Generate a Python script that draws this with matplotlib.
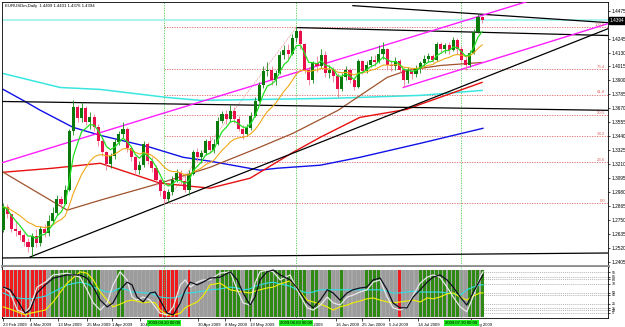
import numpy as np
import matplotlib.pyplot as plt
from matplotlib.transforms import blended_transform_factory

plt.rcParams['font.family'] = ['Liberation Sans', 'DejaVu Sans']

# daily EURUSD bars, 23 Feb 2009 .. 4 Aug 2009 (bar index = position)
first_open = 1.2670
closes = [1.2860, 1.2800, 1.2680, 1.2660, 1.2630, 1.2570, 1.2530, 1.2620, 1.2560, 1.2680,
          1.2640, 1.2740, 1.2810, 1.2920, 1.2880, 1.3000, 1.3480, 1.3680, 1.3590, 1.3670,
          1.3560, 1.3600, 1.3520, 1.3400, 1.3310, 1.3210, 1.3280, 1.3390, 1.3460, 1.3500,
          1.3340, 1.3270, 1.3160, 1.3200, 1.3380, 1.3240, 1.3180, 1.3080, 1.2990, 1.2920,
          1.2980, 1.3080, 1.3140, 1.3070, 1.3000, 1.3130, 1.3310, 1.3270, 1.3300, 1.3400,
          1.3330, 1.3380, 1.3570, 1.3620, 1.3580, 1.3650, 1.3580, 1.3500, 1.3460, 1.3510,
          1.3610, 1.3730, 1.3860, 1.3980, 1.3990, 1.3900, 1.3960, 1.4110, 1.4150, 1.4120,
          1.4250, 1.4310, 1.4200, 1.3990, 1.3900, 1.4040, 1.4020, 1.4110, 1.3960, 1.3990,
          1.3940, 1.3830, 1.3930, 1.3990, 1.3900, 1.3850, 1.4060, 1.3980, 1.4030, 1.4070,
          1.4050, 1.4120, 1.4160, 1.4030, 1.4020, 1.4060, 1.3990, 1.3900, 1.3980, 1.3950,
          1.4000, 1.4040, 1.4080, 1.4100, 1.4070, 1.4200, 1.4160, 1.4190, 1.4150, 1.4230,
          1.4160, 1.4070, 1.4030, 1.4130, 1.4300, 1.4420, 1.4394]
highs = [1.2890, 1.2880, 1.2800, 1.2740, 1.2680, 1.2640, 1.2600, 1.2640, 1.2680, 1.2700,
         1.2720, 1.2790, 1.2860, 1.2960, 1.2950, 1.3040, 1.3500, 1.3740, 1.3700, 1.3720,
         1.3690, 1.3640, 1.3620, 1.3540, 1.3420, 1.3320, 1.3300, 1.3420, 1.3480, 1.3560,
         1.3520, 1.3360, 1.3280, 1.3240, 1.3400, 1.3390, 1.3270, 1.3200, 1.3100, 1.3010,
         1.3010, 1.3110, 1.3170, 1.3160, 1.3140, 1.3160, 1.3330, 1.3340, 1.3330, 1.3420,
         1.3440, 1.3420, 1.3600, 1.3650, 1.3660, 1.3700, 1.3680, 1.3610, 1.3530, 1.3540,
         1.3640, 1.3760, 1.3890, 1.4020, 1.4050, 1.4020, 1.3990, 1.4140, 1.4190, 1.4200,
         1.4280, 1.4340, 1.4320, 1.4210, 1.4010, 1.4060, 1.4100, 1.4160, 1.4140, 1.4030,
         1.4010, 1.3960, 1.3960, 1.4020, 1.4000, 1.3930, 1.4080, 1.4070, 1.4060, 1.4100,
         1.4110, 1.4190, 1.4220, 1.4170, 1.4070, 1.4090, 1.4080, 1.4010, 1.4010, 1.4000,
         1.4030, 1.4060, 1.4110, 1.4130, 1.4120, 1.4220, 1.4220, 1.4210, 1.4220, 1.4260,
         1.4250, 1.4180, 1.4100, 1.4150, 1.4320, 1.4447, 1.4431]
lows = [1.2650, 1.2770, 1.2650, 1.2620, 1.2590, 1.2540, 1.2490, 1.2450, 1.2530, 1.2540,
        1.2610, 1.2620, 1.2720, 1.2790, 1.2850, 1.2880, 1.2990, 1.3450, 1.3560, 1.3560,
        1.3530, 1.3500, 1.3480, 1.3360, 1.3280, 1.3160, 1.3180, 1.3250, 1.3370, 1.3430,
        1.3310, 1.3240, 1.3120, 1.3130, 1.3190, 1.3210, 1.3150, 1.3040, 1.2950, 1.2885,
        1.2900, 1.2960, 1.3060, 1.3040, 1.2980, 1.2960, 1.3120, 1.3240, 1.3220, 1.3290,
        1.3300, 1.3300, 1.3370, 1.3550, 1.3540, 1.3560, 1.3550, 1.3480, 1.3420, 1.3440,
        1.3490, 1.3600, 1.3720, 1.3840, 1.3940, 1.3860, 1.3860, 1.3950, 1.4080, 1.4080,
        1.4110, 1.4220, 1.4160, 1.3960, 1.3860, 1.3880, 1.3970, 1.4000, 1.3930, 1.3920,
        1.3890, 1.3760, 1.3810, 1.3900, 1.3880, 1.3820, 1.3840, 1.3950, 1.3960, 1.4010,
        1.4020, 1.4040, 1.4080, 1.3990, 1.3980, 1.3990, 1.3960, 1.3850, 1.3880, 1.3910,
        1.3930, 1.3960, 1.4010, 1.4050, 1.4050, 1.4060, 1.4130, 1.4130, 1.4120, 1.4140,
        1.4120, 1.4050, 1.3990, 1.4010, 1.4120, 1.4290, 1.4376]

# slow moving averages at a few bars
brown_x = [0, 15.5, 23.5, 38, 50.1, 61.5, 70.2, 81.1, 93, 97.8, 105.8, 116]
brown_y = [1.3144, 1.2832, 1.2914, 1.3054, 1.3185, 1.3341, 1.3465, 1.3654, 1.3925, 1.3982, 1.4023, 1.4048]
red_x = [0, 11.9, 23.5, 38, 50.1, 59.8, 70.2, 76.8, 86.4, 97.8, 101, 116]
red_y = [1.3144, 1.3177, 1.3218, 1.3054, 1.3013, 1.3095, 1.3308, 1.3432, 1.3596, 1.3662, 1.3703, 1.3884]
blue_x = [0, 4.8, 9, 16.9, 23.5, 35.6, 43.6, 50.1, 62.2, 66.3, 76.8, 86.4, 101, 116.2]
blue_y = [1.3826, 1.3736, 1.3654, 1.3514, 1.3448, 1.3350, 1.3267, 1.3235, 1.3161, 1.3177, 1.3202, 1.3267, 1.3382, 1.3506]
cyan_x = [0, 13.8, 23.5, 39.7, 47.7, 79.9, 101, 116]
cyan_y = [1.3957, 1.3842, 1.3826, 1.3760, 1.3736, 1.3753, 1.3777, 1.3818]

# hand drawn objects: (bar, price) anchors
black_lines = [((84.7, 1.4516), (146.5, 1.4376)),
               ((71.2, 1.4335), (146.5, 1.4270)),
               ((-0.7, 1.3727), (146.5, 1.3654)),
               ((-0.7, 1.2438), (146.5, 1.2479)),
               ((6.5, 1.2446), (146.5, 1.4326))]
magenta_lines = [((-0.7, 1.3218), (127.6, 1.4557)),
                 ((96.9, 1.3842), (146.5, 1.4368))]
fib_low = (39, 1.2887)
fib_high = (71, 1.4337)
fib_ratios = [0.0, 23.6, 38.2, 50.0, 61.8, 76.4, 100.0]
vlines_at = [39, 71, 111]
vline_text = ['2009.04.20 00:00', '2009.06.03 00:00', '2009.07.30 00:00']

price_ticks = [1.2405, 1.2520, 1.2635, 1.2750, 1.2865, 1.2980, 1.3095, 1.3210, 1.3325,
               1.3440, 1.3555, 1.3670, 1.3785, 1.3900, 1.4015, 1.4130, 1.4245, 1.4475]
bid = 1.4394

date_pos = [0, 6.5, 13.3, 20.3, 26.4, 33.2, 47.2, 53.8, 59.8, 72.4, 80.6, 86.9, 93.5, 100.5, 113.3]
date_text = ['23 Feb 2009', '4 Mar 2009', '13 Mar 2009', '25 Mar 2009', '1 Apr 2009',
             '10 Apr 2009', '30 Apr 2009', '8 May 2009', '19 May 2009', '2 Jun 2009',
             '16 Jun 2009', '25 Jun 2009', '5 Jul 2009', '14 Jul 2009', '3 Aug 2009']

# lower window: trend state per bar and four oscillator lines
zone = ('rrrrrrrrrrr' + 'n' + 'gggggggggggg' + 'nnnn' + 'gg' + 'nnnnnnnn' + 'rrrrr' + 'nn' + 'r'
        + 'nnnnnn' + 'gggggg' + 'n' + 'ggggggggggggggg' + 'n' + 'gg' + 'nn' + 'g' + 'nn' + 'g'
        + 'nnnnn' + 'gggg' + 'nnnn' + 'r' + 'nnnn' + 'gggggggggg' + 'nn' + 'gggg')
osc_x = [0, 1.7, 3.4, 5.3, 6.5, 8.2, 10.2, 12.1, 15.5, 18.6, 20.3, 21.8, 23.5, 25.2, 26.6,
         28.3, 30, 31.2, 32.4, 33.9, 35.6, 36.8, 38, 39.7, 41.2, 42.9, 44.1, 45.3, 47, 48.4,
         50.1, 52.5, 55, 56.7, 58.1, 59.8, 61, 62.2, 63.9, 65.4, 67.1, 69.5, 71.2, 73.6, 75.1,
         76.8, 78.5, 79.9, 81.6, 83.3, 84.7, 86.4, 88.1, 89.6, 91.3, 93, 94.4, 96.1, 97.8,
         99.3, 101, 102.7, 104.1, 105.8, 107.5, 109, 110.7, 112.3, 113.8, 115.5, 116.2]
osc_black = [62, 56, 33, 4, 11, 49, 67, 82, 89, 89, 82, 62, 33, 18, 27, 56, 73, 67, 40, 29,
             49, 51, 33, 4, 0, 27, 56, 73, 67, 73, 82, 84, 96, 78, 49, 22, 40, 78, 96, 100,
             89, 78, 60, 27, 16, 33, 56, 49, 33, 49, 56, 60, 62, 78, 82, 56, 27, 16, 16, 40,
             56, 73, 84, 89, 78, 62, 40, 22, 49, 78, 89]
osc_white = [62, 49, 11, 4, 18, 62, 73, 89, 93, 84, 56, 27, 11, 27, 67, 96, 78, 40, 33, 40,
             33, 18, 4, 0, 18, 67, 78, 62, 73, 78, 78, 93, 96, 56, 27, 22, 71, 96, 100, 96,
             78, 89, 56, 16, 11, 22, 40, 27, 22, 40, 44, 51, 56, 73, 78, 40, 16, 11, 18, 44,
             71, 84, 89, 84, 62, 40, 18, 7, 40, 84, 96]
osc_cyan = [49, 42, 38, 36, 36, 38, 42, 51, 67, 73, 69, 62, 56, 51, 53, 60, 56, 51, 51, 49,
            49, 44, 40, 38, 38, 42, 49, 49, 51, 53, 56, 58, 62, 60, 56, 58, 64, 67, 71, 73,
            69, 64, 56, 49, 51, 56, 56, 56, 56, 56, 56, 56, 56, 56, 56, 53, 49, 49, 51, 53,
            51, 51, 51, 51, 49, 47, 44, 56, 62, 67, 67]
osc_yellow = [18, 13, 7, 0, 4, 7, 11, 29, 71, 96, 93, 78, 51, 33, 18, 24, 31, 33, 31, 27,
              29, 27, 11, 0, 0, 4, 16, 22, 29, 42, 67, 71, 56, 53, 51, 49, 53, 56, 60, 62,
              69, 76, 60, 33, 29, 24, 18, 11, 18, 22, 27, 31, 36, 38, 33, 29, 27, 29, 31, 33,
              29, 38, 36, 40, 47, 49, 40, 33, 42, 49, 49]
osc_levels = [95, 85, 80, 70, 50, 45, 25, 15, 10, 5]


def ema(vals, n):
    a = 2.0 / (n + 1)
    out = [vals[0]]
    for v in vals[1:]:
        out.append(out[-1] + a * (v - out[-1]))
    return np.array(out)


closes = np.array(closes)
opens = np.array([first_open] + list(closes[:-1]))
highs = np.array(highs)
lows = np.array(lows)
idx = np.arange(len(closes))

fs = 3.1
fig = plt.figure(figsize=(6.25, 3.27), dpi=100)
ax = fig.add_axes([2 / 625, 1 - 266 / 327, 606 / 625, 264 / 327])
ax2 = fig.add_axes([2 / 625, 1 - 318 / 327, 606 / 625, 51 / 327])

xlim = (-0.3, 146.5)

# ---- main window
ax.set_xlim(*xlim)
ax.set_ylim(1.2372, 1.4546)

# fibonacci
frange = fib_high[1] - fib_low[1]
for r in fib_ratios:
    lv = fib_low[1] + frange * r / 100
    ax.plot([fib_low[0], xlim[1]], [lv, lv], color='#e06464', lw=0.6, ls=(0, (1.5, 1.5)), zorder=1)
    ax.text(145.8, lv + 0.0003, '%.1f' % r, color='#e06464', fontsize=fs,
            ha='right', va='bottom', zorder=6)
ax.plot([fib_low[0], fib_high[0]], [fib_low[1], fib_high[1]], color='#e88a8a', lw=0.6,
        ls=(0, (1.5, 1.5)), zorder=1)

for v in vlines_at:
    ax.axvline(v, color='#4ccc4c', lw=0.6, ls=(0, (1.5, 1.5)), zorder=1)
    ax2.axvline(v, color='#4ccc4c', lw=0.6, ls=(0, (1.5, 1.5)), zorder=5)

ax.axhline(bid, color='#a6f2ec', lw=1.3, zorder=1)

for (a, b) in black_lines:
    ax.plot([a[0], b[0]], [a[1], b[1]], color='black', lw=0.9, zorder=3)
for (a, b) in magenta_lines:
    ax.plot([a[0], b[0]], [a[1], b[1]], color='#ff1eff', lw=1.0, zorder=3)

ax.plot(cyan_x, cyan_y, color='#3ae6e0', lw=1.1, zorder=2)
ax.plot(blue_x, blue_y, color='#1010e8', lw=1.0, zorder=2)
ax.plot(red_x, red_y, color='#e81010', lw=1.0, zorder=2)
ax.plot(brown_x, brown_y, color='#a0522d', lw=0.9, zorder=2)

# candles
up = closes >= opens
wick_col = np.where(up, '#1a8a1a', '#f07890')
ax.vlines(idx, lows, highs, colors=wick_col, lw=0.6, zorder=4)
body = np.where(np.abs(closes - opens) < 0.0004, 0.0004, closes - opens)
ax.bar(idx[up], body[up], bottom=opens[up], width=0.75, color='#0a7a0a', lw=0, zorder=5)
ax.bar(idx[~up], body[~up], bottom=opens[~up], width=0.75, color='#e8104a', lw=0, zorder=5)

ax.plot(idx, ema(closes, 15), color='#f0a818', lw=0.8, zorder=6)
ax.plot(idx, ema(closes, 5), color='#22e022', lw=0.9, zorder=6)

ax.text(0.005, 0.993, 'EURUSDm,Daily  1.4409 1.4431 1.4376 1.4394', transform=ax.transAxes,
        fontsize=fs, va='top', ha='left')

ax.yaxis.tick_right()
ax.set_yticks(price_ticks)
ax.set_yticklabels(['%.4f' % t for t in price_ticks])
ax.tick_params(axis='y', labelsize=fs + 0.3, length=1.5, width=0.5, pad=1)
ax.set_xticks([])
trans = blended_transform_factory(ax.transAxes, ax.transData)
ax.text(1.0025, bid, '%.4f' % bid, transform=trans, fontsize=fs + 0.3, color='white', va='center',
        ha='left', bbox=dict(boxstyle='square,pad=0.15', fc='black', ec='black'), zorder=10,
        clip_on=False)
for s in ['left', 'top', 'right']:
    ax.spines[s].set_linewidth(0.6)
ax.spines['bottom'].set_color('#8c8c8c')
ax.spines['bottom'].set_linewidth(2.0)

# ---- indicator window
ax2.set_xlim(*xlim)
ax2.set_ylim(-6.7, 106.7)
for lv in osc_levels:
    ax2.axhline(lv, color='#9a9a9a', lw=0.5, ls=(0, (1.5, 1.5)), zorder=1)
ax2.bar(idx, 105, bottom=-5, width=1.0, color='#a8a8a8', lw=0, zorder=2)
zcol = {'r': '#ee1c1c', 'g': '#2e8a12', 'n': '#9c9c9c'}
ax2.bar(idx, 105, bottom=-5, width=0.72, color=[zcol[z] for z in zone], lw=0, zorder=3)
ax2.plot(osc_x, osc_cyan, color='#2ee0e6', lw=0.8, zorder=6)
ax2.plot(osc_x, osc_yellow, color='#f2f200', lw=0.8, zorder=6)
ax2.plot(osc_x, osc_white, color='#e8e8e8', lw=0.9, zorder=6)
ax2.plot(osc_x, osc_black, color='#101020', lw=0.9, zorder=7)

ax2.yaxis.tick_right()
ax2.set_yticks(osc_levels)
ax2.set_yticklabels([str(v) for v in osc_levels])
ax2.tick_params(axis='y', labelsize=2.6, length=1.5, width=0.5, pad=1)
ax2.set_xticks(date_pos)
ax2.set_xticklabels(date_text, ha='left')
ax2.tick_params(axis='x', labelsize=fs, length=2, width=0.5, pad=1.5)
ax2.spines['top'].set_visible(False)
for s in ['left', 'right', 'bottom']:
    ax2.spines[s].set_linewidth(0.6)

# labels of the vertical lines on the time axis
ttrans = blended_transform_factory(ax2.transData, ax2.transAxes)
for v, t in zip(vlines_at, vline_text):
    ax2.text(v, -0.09, t, transform=ttrans, fontsize=fs, ha='center', va='center',
             bbox=dict(boxstyle='square,pad=0.25', fc='#22ee22', ec='none'), zorder=10,
             clip_on=False)

fig.savefig('out.png', dpi=100)
